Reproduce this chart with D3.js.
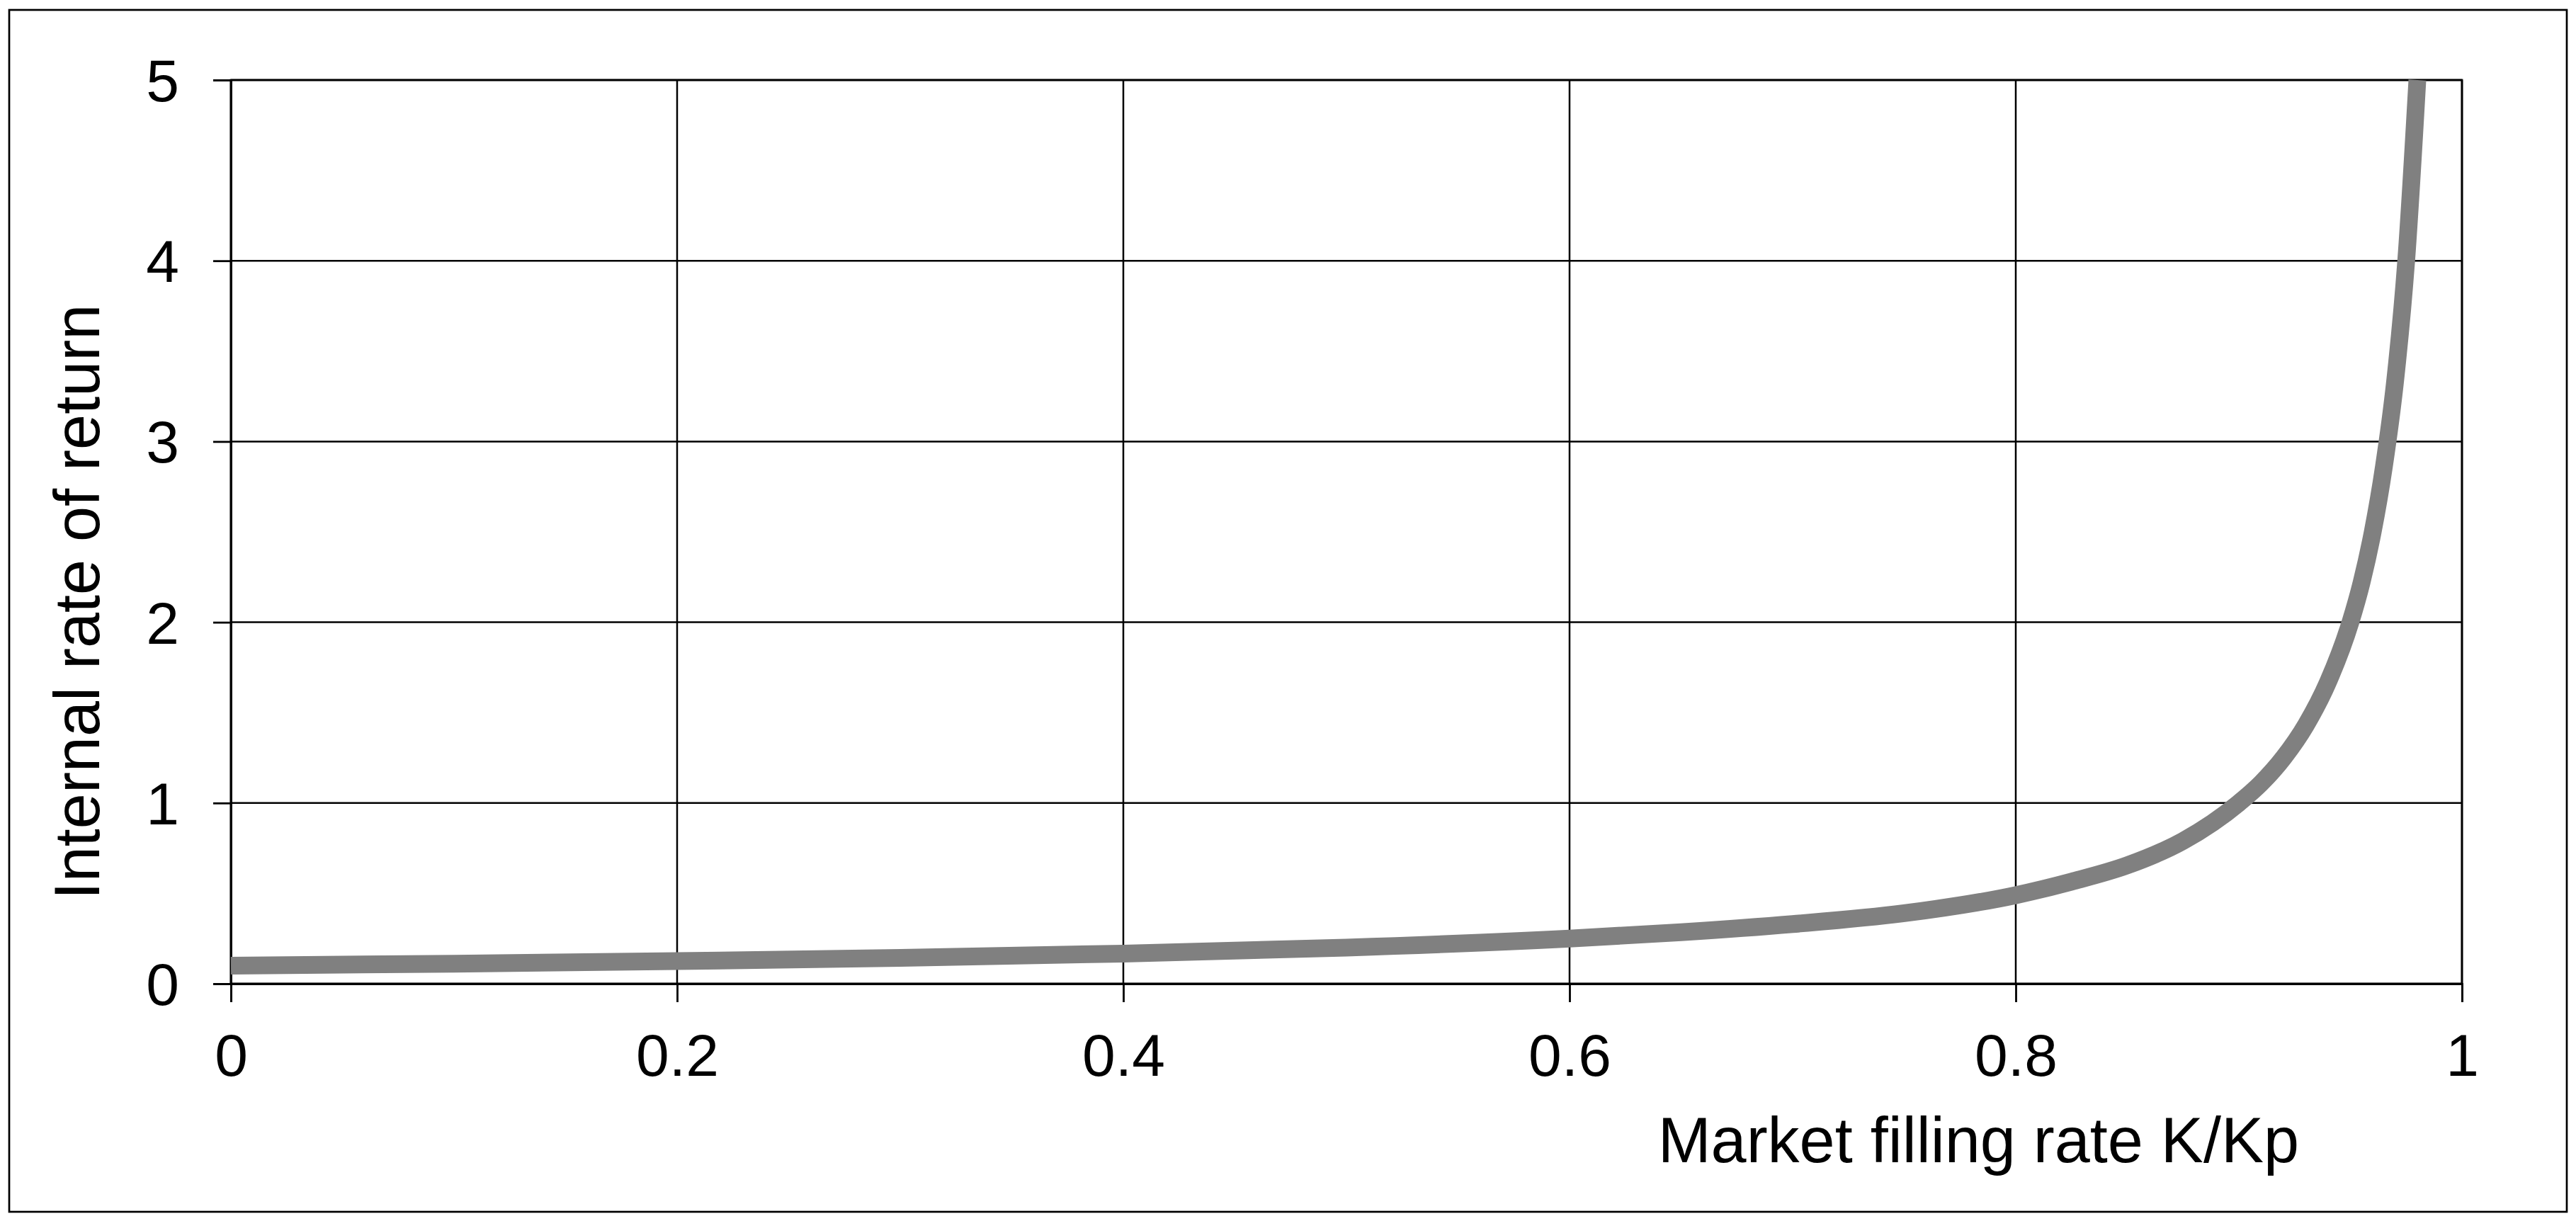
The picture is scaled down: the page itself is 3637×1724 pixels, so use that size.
<!DOCTYPE html>
<html>
<head>
<meta charset="utf-8">
<script src="https://cdn.jsdelivr.net/npm/d3@7"></script>
<style>
  body { margin: 0; background: #fff; }
  svg { display: block; font-family: "Liberation Sans", Arial, sans-serif; }
</style>
</head>
<body>
<div id="chart"></div>
<script>
// values
var fillRate = [0, 0.1, 0.2, 0.3, 0.4, 0.5, 0.6, 0.65, 0.7, 0.75, 0.8, 0.825, 0.85, 0.875, 0.9,
                0.91, 0.92, 0.93, 0.94, 0.95, 0.955, 0.96, 0.965, 0.97, 0.975, 0.98]
var irr = [0.10, 0.111, 0.125, 0.143, 0.167, 0.20, 0.25, 0.285, 0.33, 0.39, 0.49, 0.565, 0.655, 0.79, 1.0,
           1.11, 1.25, 1.43, 1.67, 2.0, 2.22, 2.5, 2.86, 3.33, 4.0, 5.0]
var xTicks = [0, 0.2, 0.4, 0.6, 0.8, 1]
var yTicks = [0, 1, 2, 3, 4, 5]
var xTitle = "Market filling rate K/Kp"
var yTitle = "Internal rate of return"

var width = 3637
var height = 1724
var margin = { top: 113, right: 161, bottom: 335, left: 326 }
var innerW = width - margin.left - margin.right
var innerH = height - margin.top - margin.bottom

var svg = d3.select("#chart").append("svg")
    .attr("width", width)
    .attr("height", height)

// outer frame
svg.append("rect")
    .attr("x", 13).attr("y", 14)
    .attr("width", 3611).attr("height", 1697)
    .attr("fill", "none")
    .attr("stroke", "#000")
    .attr("stroke-width", 2.7)

var g = svg.append("g")
    .attr("transform", "translate(" + margin.left + "," + margin.top + ")")

var x = d3.scaleLinear().domain([0, 1]).range([0, innerW])
var y = d3.scaleLinear().domain([0, 5]).range([innerH, 0])

// grid
g.selectAll(".hgrid").data(yTicks).enter().append("line")
    .attr("x1", 0).attr("x2", innerW)
    .attr("y1", d => y(d)).attr("y2", d => y(d))
    .attr("stroke", "#000").attr("stroke-width", 2.5)
g.selectAll(".vgrid").data(xTicks).enter().append("line")
    .attr("y1", 0).attr("y2", innerH)
    .attr("x1", d => x(d)).attr("x2", d => x(d))
    .attr("stroke", "#000").attr("stroke-width", 2.5)

// plot border
g.append("rect")
    .attr("width", innerW).attr("height", innerH)
    .attr("fill", "none")
    .attr("stroke", "#000")
    .attr("stroke-width", 2.8)

// axes
var xAxis = g.append("g")
    .attr("transform", "translate(0," + innerH + ")")
    .call(d3.axisBottom(x).tickValues(xTicks).tickSize(26).tickPadding(44)
        .tickFormat(d => d === 0 || d === 1 ? d3.format("d")(d) : d3.format(".1f")(d)))
var yAxis = g.append("g")
    .call(d3.axisLeft(y).tickValues(yTicks).tickSize(25).tickPadding(48).tickFormat(d3.format("d")))

;[xAxis, yAxis].forEach(a => {
    a.select(".domain").attr("stroke", "#000").attr("stroke-width", 2.8)
    a.selectAll(".tick line").attr("stroke", "#000").attr("stroke-width", 2.8)
    a.selectAll(".tick text")
        .attr("fill", "#000")
        .attr("font-size", "84px")
        .attr("font-family", "Liberation Sans, Arial, sans-serif")
})
yAxis.selectAll(".tick text").attr("dy", "0.35em")
xAxis.selectAll(".tick text").attr("dy", "0.71em")

// curve
var pts = fillRate.map((f, i) => [f, irr[i]])
g.append("path")
    .datum(pts)
    .attr("fill", "none")
    .attr("stroke", "#808080")
    .attr("stroke-width", 25)
    .attr("stroke-linecap", "butt")
    .attr("d", d3.line()
        .x(d => x(d[0]))
        .y(d => y(d[1]))
        .curve(d3.curveMonotoneX))

// titles
svg.append("text")
    .attr("x", 3246).attr("y", 1641)
    .attr("text-anchor", "end")
    .attr("font-size", "90px")
    .attr("fill", "#000")
    .text(xTitle)

svg.append("text")
    .attr("transform", "translate(140,850) rotate(-90)")
    .attr("text-anchor", "middle")
    .attr("font-size", "90px")
    .attr("fill", "#000")
    .text(yTitle)
</script>
</body>
</html>
